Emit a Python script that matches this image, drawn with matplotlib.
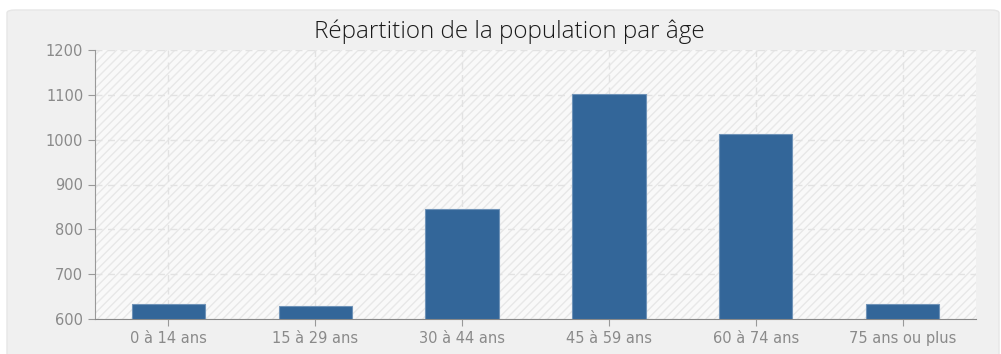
import matplotlib.pyplot as plt
from matplotlib.patches import FancyBboxPatch, Rectangle

# Population par tranche d'âge
categories = ['0 à 14 ans', '15 à 29 ans', '30 à 44 ans', '45 à 59 ans', '60 à 74 ans', '75 ans ou plus']
population = [633, 629, 845, 1102, 1013, 633]
y_ticks = [600, 700, 800, 900, 1000, 1100, 1200]

W, H = 1001, 354
fig = plt.figure(figsize=(W / 100, H / 100), dpi=100)
fig.patch.set_facecolor('white')

# Panneau gris arrondi derrière le graphique
panel = FancyBboxPatch((7 / W, -20 / H), (W - 9) / W, (H + 10) / H,
                       boxstyle='round,pad=0,rounding_size=0.008',
                       transform=fig.transFigure, facecolor='#f0f0f0',
                       edgecolor='#e6e6e6', linewidth=1, zorder=-5)
fig.patches.append(panel)

left, right, top, bottom = 95, 976, 50, 319
ax = fig.add_axes([left / W, 1 - bottom / H, (right - left) / W, (bottom - top) / H])
ax.set_zorder(1)
ax.set_facecolor('#f9f9f9')

# Fond hachuré de la zone de tracé
ax.add_patch(Rectangle((0, 0), 1, 1, transform=ax.transAxes, facecolor='#f9f9f9',
                       edgecolor='#e8e8e8', hatch='////', linewidth=0, zorder=0))

x = list(range(len(categories)))
ax.bar(x, [v - 600 for v in population], bottom=600, width=0.5, color='#336699',
       edgecolor='#6f93b8', linewidth=0.8, zorder=3)

ax.set_xlim(-0.5, len(categories) - 0.5)
ax.set_ylim(600, 1200)
ax.set_yticks(y_ticks)
ax.set_xticks(x)
ax.set_xticklabels(categories)

ax.grid(True, color='#e2e2e2', linestyle=(0, (5, 4)), linewidth=1, zorder=1)
ax.set_axisbelow(True)

for s in ['top', 'right']:
    ax.spines[s].set_visible(False)
ax.spines['left'].set_color('#999999')
ax.spines['bottom'].set_color('#888888')
ax.tick_params(axis='both', colors='#999999', labelcolor='#8a8a8a', labelsize=10.5,
               length=5, direction='out')
for lab in ax.get_xticklabels() + ax.get_yticklabels():
    lab.set_family('DejaVu Sans')

fig.text(509 / W, 1 - 32 / H, 'Répartition de la population par âge', ha='center', va='center',
         fontsize=17.5, color='#1a1a1a', family=['Open Sans', 'DejaVu Sans'], fontweight='light',
         zorder=5)

fig.savefig('out.png', dpi=100)
